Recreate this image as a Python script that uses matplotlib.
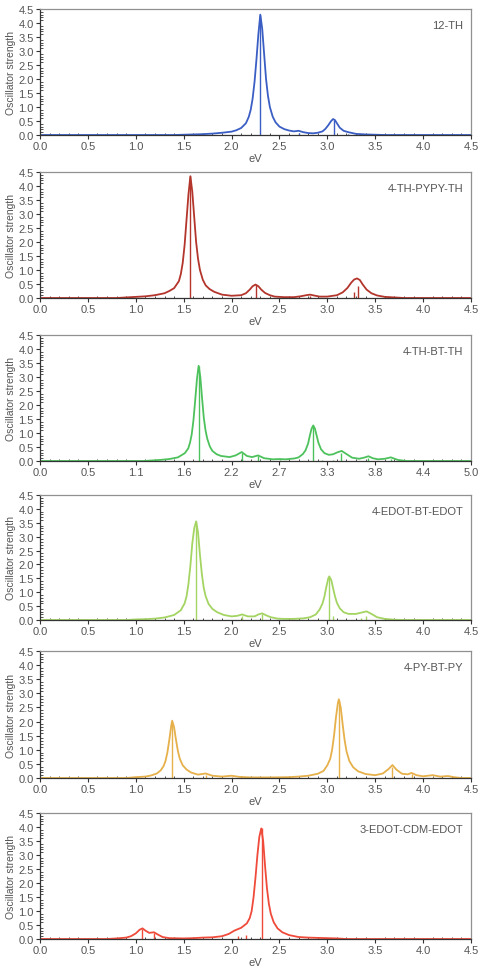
import matplotlib
matplotlib.use("Agg")
import matplotlib.pyplot as plt
from matplotlib.ticker import MultipleLocator, FixedLocator

plt.rcParams['font.family'] = ['Liberation Sans', 'DejaVu Sans']

names = ["12-TH", "4-TH-PYPY-TH", "4-TH-BT-TH", "4-EDOT-BT-EDOT", "4-PY-BT-PY", "3-EDOT-CDM-EDOT"]
colors = ["#3a5ec4", "#b3352b", "#4dc25c", "#a4d462", "#e6b04a", "#ef4a3a"]

# Panel 1: 12-TH
p1_x = [0.0, 1.4, 1.5, 1.7, 1.8, 1.9, 2.0, 2.05, 2.10, 2.15, 2.18, 2.20, 2.22, 2.24, 2.26, 2.28, 2.30,
        2.32, 2.34, 2.36, 2.38, 2.40, 2.43, 2.46, 2.5, 2.55, 2.6, 2.65, 2.7, 2.75, 2.8, 2.85, 2.9, 2.95,
        2.98, 3.01, 3.04, 3.06, 3.08, 3.1, 3.13, 3.17, 3.22, 3.26, 3.3, 3.4, 3.5, 3.6, 4.5]
p1_y = [0.0, 0.0, 0.01, 0.03, 0.05, 0.08, 0.12, 0.17, 0.25, 0.42, 0.65, 0.9, 1.3, 1.9, 2.7, 3.6, 4.3,
        3.8, 2.9, 2.0, 1.4, 1.0, 0.65, 0.45, 0.3, 0.21, 0.16, 0.13, 0.15, 0.1, 0.07, 0.06, 0.08, 0.13,
        0.22, 0.35, 0.5, 0.57, 0.53, 0.42, 0.26, 0.15, 0.1, 0.07, 0.04, 0.02, 0.01, 0.0, 0.0]
p1_sx = [2.30, 2.70, 3.07, 3.22]
p1_sy = [4.3, 0.08, 0.55, 0.05]

# Panel 2: 4-TH-PYPY-TH
p2_x = [0.0, 0.8, 0.9, 1.0, 1.1, 1.2, 1.3, 1.35, 1.40, 1.45, 1.47, 1.49, 1.51, 1.53, 1.55, 1.57, 1.59,
        1.61, 1.63, 1.65, 1.67, 1.70, 1.73, 1.77, 1.82, 1.9, 2.0, 2.1, 2.15, 2.19, 2.22, 2.25, 2.28, 2.31,
        2.35, 2.4, 2.45, 2.55, 2.65, 2.72, 2.78, 2.82, 2.86, 2.92, 3.0, 3.1, 3.16, 3.21, 3.25, 3.28, 3.31,
        3.34, 3.37, 3.41, 3.46, 3.52, 3.6, 3.7, 3.8, 4.5]
p2_y = [0.0, 0.0, 0.02, 0.04, 0.06, 0.1, 0.17, 0.25, 0.35, 0.6, 0.85, 1.25, 1.9, 2.8, 3.7, 4.35, 3.8,
        2.9, 2.0, 1.4, 1.0, 0.65, 0.45, 0.32, 0.22, 0.12, 0.08, 0.1, 0.17, 0.3, 0.42, 0.48, 0.42, 0.3,
        0.18, 0.1, 0.05, 0.03, 0.03, 0.06, 0.1, 0.12, 0.09, 0.05, 0.05, 0.1, 0.2, 0.36, 0.55, 0.66, 0.7,
        0.64, 0.48, 0.3, 0.17, 0.09, 0.04, 0.02, 0.0, 0.0]
p2_sx = [1.57, 2.26, 2.82, 3.28, 3.32]
p2_sy = [4.35, 0.45, 0.08, 0.22, 0.42]

# Panel 3: 4-TH-BT-TH
p3_x = [0.0, 1.2, 1.3, 1.4, 1.5, 1.6, 1.68, 1.72, 1.74, 1.76, 1.78, 1.80, 1.82, 1.84, 1.86, 1.88, 1.90,
        1.92, 1.94, 1.97, 2.0, 2.05, 2.1, 2.2, 2.27, 2.34, 2.4, 2.46, 2.53, 2.6, 2.7, 2.78, 2.85, 2.95,
        3.0, 3.05, 3.08, 3.11, 3.13, 3.15, 3.17, 3.19, 3.21, 3.23, 3.26, 3.3, 3.35, 3.4, 3.45, 3.5, 3.55,
        3.62, 3.7, 3.76, 3.81, 3.86, 3.92, 4.0, 4.07, 4.15, 4.25, 5.0]
p3_y = [0.0, 0.0, 0.02, 0.04, 0.07, 0.13, 0.28, 0.45, 0.65, 0.95, 1.45, 2.15, 2.9, 3.4, 3.0, 2.25, 1.55,
        1.1, 0.8, 0.52, 0.36, 0.24, 0.18, 0.14, 0.2, 0.32, 0.18, 0.14, 0.2, 0.1, 0.06, 0.07, 0.06, 0.09,
        0.13, 0.25, 0.38, 0.62, 0.9, 1.15, 1.27, 1.15, 0.9, 0.65, 0.42, 0.28, 0.22, 0.24, 0.31, 0.36,
        0.26, 0.12, 0.08, 0.12, 0.17, 0.1, 0.06, 0.08, 0.13, 0.04, 0.0, 0.0]
p3_sx = [1.84, 2.34, 2.53, 2.78, 3.17, 3.27, 3.40, 3.49, 3.81, 4.07]
p3_sy = [3.4, 0.3, 0.17, 0.04, 1.25, 0.04, 0.05, 0.3, 0.1, 0.08]

# Panel 4: 4-EDOT-BT-EDOT
p4_x = [0.0, 0.9, 1.0, 1.1, 1.2, 1.3, 1.4, 1.47, 1.51, 1.53, 1.55, 1.57, 1.59, 1.61, 1.63, 1.65, 1.67,
        1.69, 1.71, 1.73, 1.76, 1.8, 1.85, 1.92, 2.0, 2.06, 2.11, 2.17, 2.24, 2.28, 2.32, 2.36, 2.41,
        2.48, 2.55, 2.65, 2.75, 2.82, 2.88, 2.92, 2.95, 2.97, 2.99, 3.01, 3.02, 3.04, 3.06, 3.08, 3.10,
        3.13, 3.17, 3.22, 3.3, 3.36, 3.41, 3.46, 3.52, 3.6, 3.7, 3.8, 4.5]
p4_y = [0.0, 0.0, 0.02, 0.03, 0.05, 0.09, 0.18, 0.35, 0.6, 0.85, 1.3, 1.95, 2.75, 3.3, 3.55, 3.15, 2.35,
        1.65, 1.15, 0.85, 0.58, 0.4, 0.28, 0.18, 0.13, 0.15, 0.2, 0.13, 0.13, 0.2, 0.24, 0.17, 0.1,
        0.05, 0.04, 0.04, 0.06, 0.1, 0.2, 0.38, 0.6, 0.85, 1.2, 1.5, 1.57, 1.45, 1.15, 0.85, 0.62,
        0.42, 0.28, 0.22, 0.22, 0.27, 0.31, 0.22, 0.1, 0.04, 0.01, 0.0, 0.0]
p4_sx = [1.63, 2.11, 2.32, 3.02, 3.06, 3.35, 3.40]
p4_sy = [3.55, 0.15, 0.2, 1.55, 0.15, 0.08, 0.15]

# Panel 5: 4-PY-BT-PY
p5_x = [0.0, 0.9, 1.0, 1.1, 1.16, 1.22, 1.26, 1.29, 1.31, 1.33, 1.35, 1.37, 1.38, 1.40, 1.42, 1.44, 1.46,
        1.49, 1.53, 1.58, 1.65, 1.73, 1.8, 1.9, 2.0, 2.08, 2.2, 2.4, 2.6, 2.7, 2.8, 2.9, 2.96, 3.0, 3.03,
        3.05, 3.07, 3.09, 3.11, 3.12, 3.14, 3.16, 3.18, 3.20, 3.23, 3.27, 3.32, 3.4, 3.5, 3.58, 3.64,
        3.68, 3.72, 3.78, 3.84, 3.88, 3.93, 4.0, 4.1, 4.18, 4.26, 4.32, 4.4, 4.5]
p5_y = [0.0, 0.0, 0.03, 0.05, 0.09, 0.16, 0.27, 0.42, 0.6, 0.9, 1.35, 1.85, 2.03, 1.8, 1.35, 0.95,
        0.68, 0.45, 0.3, 0.19, 0.12, 0.16, 0.08, 0.05, 0.08, 0.04, 0.02, 0.02, 0.03, 0.05, 0.08, 0.15,
        0.25, 0.45, 0.68, 1.0, 1.5, 2.15, 2.65, 2.79, 2.5, 1.9, 1.35, 0.95, 0.6, 0.38, 0.24, 0.14, 0.1,
        0.16, 0.32, 0.46, 0.3, 0.15, 0.13, 0.18, 0.1, 0.06, 0.1, 0.05, 0.07, 0.03, 0.0, 0.0]
p5_sx = [1.38, 1.73, 2.0, 3.12, 3.68, 3.88, 4.1]
p5_sy = [2.0, 0.1, 0.05, 2.75, 0.4, 0.13, 0.05]

# Panel 6: 3-EDOT-CDM-EDOT
p6_x = [0.0, 0.7, 0.8, 0.9, 0.95, 1.0, 1.04, 1.07, 1.1, 1.14, 1.19, 1.23, 1.28, 1.35, 1.5, 1.6, 1.7,
        1.8, 1.9, 1.97, 2.03, 2.1, 2.16, 2.19, 2.21, 2.23, 2.25, 2.27, 2.29, 2.31, 2.33, 2.35, 2.37,
        2.39, 2.41, 2.44, 2.48, 2.53, 2.6, 2.7, 2.8, 2.9, 3.0, 3.1, 3.2, 4.5]
p6_y = [0.0, 0.0, 0.02, 0.05, 0.1, 0.2, 0.33, 0.38, 0.3, 0.22, 0.24, 0.16, 0.07, 0.03, 0.02, 0.03,
        0.05, 0.06, 0.1, 0.18, 0.3, 0.4, 0.56, 0.75, 1.0, 1.5, 2.2, 3.0, 3.65, 3.95, 3.5, 2.6, 1.8,
        1.25, 0.9, 0.6, 0.38, 0.24, 0.14, 0.07, 0.05, 0.04, 0.03, 0.02, 0.0, 0.0]
p6_sx = [1.07, 1.19, 2.07, 2.15, 2.32]
p6_sy = [0.35, 0.2, 0.1, 0.13, 3.95]

xticks_std = [0.0, 0.5, 1.0, 1.5, 2.0, 2.5, 3.0, 3.5, 4.0, 4.5]
xticklabels_std = ["0.0", "0.5", "1.0", "1.5", "2.0", "2.5", "3.0", "3.5", "4.0", "4.5"]
xticks_p3 = [i * 5.0 / 9 for i in range(10)]
xticklabels_p3 = ["0.0", "0.5", "1.1", "1.6", "2.2", "2.7", "3.3", "3.8", "4.4", "5.0"]
yticks = [0.0, 0.5, 1.0, 1.5, 2.0, 2.5, 3.0, 3.5, 4.0, 4.5]
yticklabels = ["0.0", "0.5", "1.0", "1.5", "2.0", "2.5", "3.0", "3.5", "4.0", "4.5"]

curves = [(p1_x, p1_y), (p2_x, p2_y), (p3_x, p3_y), (p4_x, p4_y), (p5_x, p5_y), (p6_x, p6_y)]
sticks = [(p1_sx, p1_sy), (p2_sx, p2_sy), (p3_sx, p3_sy), (p4_sx, p4_sy), (p5_sx, p5_sy), (p6_sx, p6_sy)]

W, H = 482, 979
fig = plt.figure(figsize=(W / 100, H / 100), dpi=100)
panel_px = [(10, 136), (173, 299), (336, 462), (496, 621), (652, 779), (814, 940)]
left_px, right_px = 40, 471
txt = "#555555"

for i in range(6):
    top, bot = panel_px[i]
    ax = fig.add_axes([left_px / W, 1 - bot / H, (right_px - left_px) / W, (bot - top) / H])
    cx, cy = curves[i]
    sx, sy = sticks[i]
    ax.plot(cx, cy, color=colors[i], lw=1.3, solid_joinstyle='round')
    ax.vlines(sx, 0, sy, color=colors[i], lw=1.0)
    xmax = 5.0 if i == 2 else 4.5
    ax.set_xlim(0, xmax)
    ax.set_ylim(0, 4.5)
    if i == 2:
        ax.xaxis.set_major_locator(FixedLocator(xticks_p3))
        ax.set_xticklabels(xticklabels_p3)
        ax.xaxis.set_minor_locator(FixedLocator([k * 5.0 / 45 for k in range(46)]))
    else:
        ax.xaxis.set_major_locator(FixedLocator(xticks_std))
        ax.set_xticklabels(xticklabels_std)
        ax.xaxis.set_minor_locator(MultipleLocator(0.1))
    ax.yaxis.set_major_locator(FixedLocator(yticks))
    ax.set_yticklabels(yticklabels)
    ax.yaxis.set_minor_locator(MultipleLocator(0.1))
    ax.tick_params(which='major', direction='out', length=3, width=0.8, colors='#333333',
                   labelcolor=txt, labelsize=8, pad=1.5)
    ax.tick_params(which='minor', direction='in', length=1.8, width=0.6, colors='#333333')
    for s in ['left', 'bottom']:
        ax.spines[s].set_color('#333333')
        ax.spines[s].set_linewidth(0.9)
    for s in ['top', 'right']:
        ax.spines[s].set_color('#909090')
        ax.spines[s].set_linewidth(0.9)
    ax.set_xlabel("eV", fontsize=8, color=txt, labelpad=1)
    ax.set_ylabel("Oscillator strength", fontsize=7.5, color=txt, labelpad=2)
    ax.text(0.982, 0.91, names[i], transform=ax.transAxes, ha='right', va='top',
            fontsize=8, color=txt)

fig.savefig("out.png", dpi=100)
